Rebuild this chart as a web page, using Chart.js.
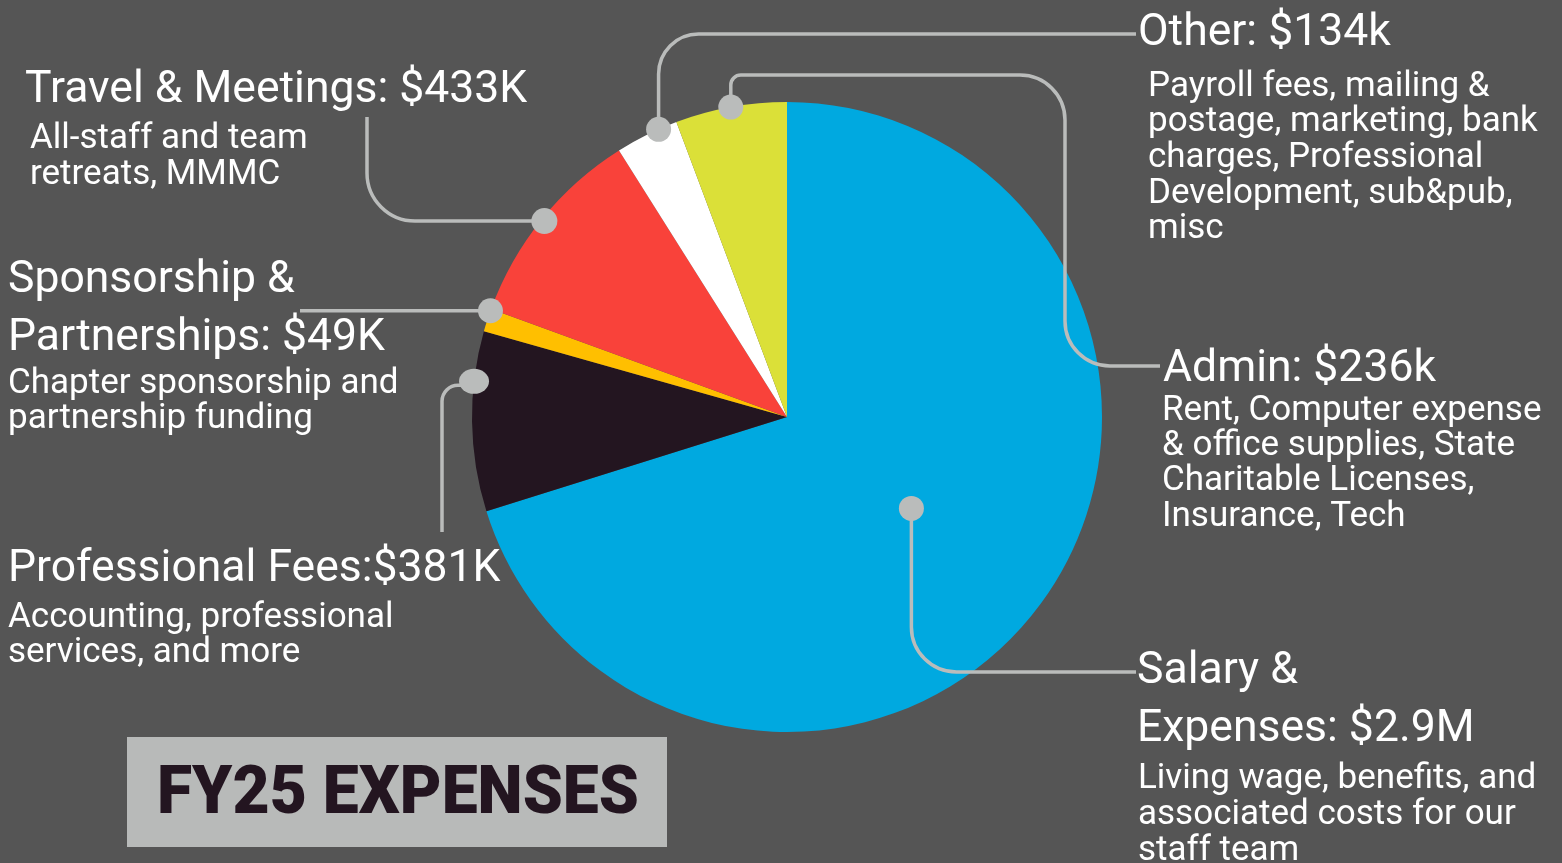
<!DOCTYPE html>
<html>
<head>
<meta charset="utf-8">
<script src="https://cdn.jsdelivr.net/npm/chart.js"></script>
<style>
  html, body { margin: 0; padding: 0; background: #555555; overflow: hidden; }
  #wrap { width: 1562px; height: 863px; }
</style>
</head>
<body>
<div id="wrap"><canvas id="chart" width="1562" height="863"></canvas></div>
<script>
// FY25 expenses, in $K
const categories = ['Salary & Expenses', 'Professional Fees', 'Sponsorship & Partnerships', 'Travel & Meetings', 'Other', 'Admin'];
const amounts = [2900, 381, 49, 433, 134, 236];
const sliceColors = ['#00a9e0', '#231520', '#ffbf00', '#f9423a', '#ffffff', '#dbe038'];

// label text, one entry per slice (same order as categories)
const headings = [
  ['Salary &', 'Expenses: $2.9M'],
  ['Professional Fees:$381K'],
  ['Sponsorship &', 'Partnerships: $49K'],
  ['Travel & Meetings: $433K'],
  ['Other: $134k'],
  ['Admin: $236k']
];
const details = [
  ['Living wage, benefits, and', 'associated costs for our', 'staff team'],
  ['Accounting, professional', 'services, and more'],
  ['Chapter sponsorship and', 'partnership funding'],
  ['All-staff and team', 'retreats, MMMC'],
  ['Payroll fees, mailing &', 'postage, marketing, bank', 'charges, Professional', 'Development, sub&pub,', 'misc'],
  ['Rent, Computer expense', '& office supplies, State', 'Charitable Licenses,', 'Insurance, Tech']
];
const title = 'FY25 EXPENSES';

const LINE = '#babcbb';
const TEXT = '#ffffff';

// where each callout sits (layout only)
const callouts = [
  { f: 0.5, r: 0.49, dot: [12.5, 12.5],
    route: d => [d, { x: d.x, y: 672 }, { x: 1136, y: 672 }], radii: [45],
    head: { x: 1137, y: [683, 741] }, sub: { x: 1138, y: [788, 824, 860] } },
  { f: 0.72, r: 1.0, dot: [15, 12.5],
    route: d => [{ x: d.x, y: d.y + 4 }, { x: 442, y: d.y + 4 }, { x: 442, y: 532 }], radii: [16],
    head: { x: 8, y: [581] }, sub: { x: 8, y: [627, 662] } },
  { f: 0.92, r: 1.0, dot: [12.5, 12.5],
    route: d => [d, { x: 300, y: d.y }], radii: [],
    head: { x: 8, y: [292, 350] }, sub: { x: 8, y: [393, 428] } },
  { f: 0.5, r: 0.99, dot: [13, 13],
    route: d => [d, { x: 367, y: d.y }, { x: 367, y: 117 }], radii: [48],
    head: { x: 25, y: [102] }, sub: { x: 30, y: [148, 184] } },
  { f: 0.7, r: 1.0, dot: [12.5, 12.5],
    route: d => [d, { x: d.x, y: 34 }, { x: 1136, y: 34 }], radii: [40],
    head: { x: 1138, y: [45] }, sub: { x: 1148, y: [96, 131, 167, 203, 238] } },
  { f: 0.5, r: 1.0, dot: [12.5, 12.5],
    route: d => [d, { x: d.x, y: 75 }, { x: 1065, y: 75 }, { x: 1065, y: 366 }, { x: 1160, y: 366 }], radii: [10, 45, 45],
    head: { x: 1163, y: [381] }, sub: { x: 1162, y: [420, 455, 490, 526] } }
];

const background = {
  id: 'background',
  beforeDraw(chart) {
    const ctx = chart.ctx;
    ctx.save();
    ctx.fillStyle = '#555555';
    ctx.fillRect(0, 0, chart.width, chart.height);
    ctx.restore();
  }
};

const calloutPlugin = {
  id: 'callouts',
  afterDatasetsDraw(chart) {
    const ctx = chart.ctx;
    const arcs = chart.getDatasetMeta(0).data;
    ctx.save();
    // leader lines
    const dots = arcs.map((arc, i) => {
      const c = callouts[i];
      const a = arc.startAngle + c.f * (arc.endAngle - arc.startAngle);
      const rr = arc.outerRadius * c.r;
      return { x: arc.x + Math.cos(a) * rr, y: arc.y + Math.sin(a) * rr };
    });
    ctx.strokeStyle = LINE;
    ctx.lineWidth = 3.5;
    ctx.lineCap = 'butt';
    dots.forEach((d, i) => {
      const c = callouts[i];
      const pts = c.route(d);
      ctx.beginPath();
      ctx.moveTo(pts[0].x, pts[0].y);
      for (let k = 1; k < pts.length - 1; k++) {
        ctx.arcTo(pts[k].x, pts[k].y, pts[k + 1].x, pts[k + 1].y, c.radii[k - 1]);
      }
      const last = pts[pts.length - 1];
      ctx.lineTo(last.x, last.y);
      ctx.stroke();
    });
    // dots
    ctx.fillStyle = LINE;
    dots.forEach((d, i) => {
      const [rx, ry] = callouts[i].dot;
      ctx.beginPath();
      ctx.ellipse(d.x, d.y, rx, ry, 0, 0, Math.PI * 2);
      ctx.fill();
    });

    // texts
    ctx.fillStyle = TEXT;
    ctx.textBaseline = 'alphabetic';
    ctx.textAlign = 'left';
    callouts.forEach((c, i) => {
      ctx.font = '44.5px Roboto';
      headings[i].forEach((t, k) => ctx.fillText(t, c.head.x, c.head.y[k]));
      ctx.font = '35px Roboto';
      details[i].forEach((t, k) => ctx.fillText(t, c.sub.x, c.sub.y[k]));
    });

    // title box
    ctx.fillStyle = '#b8bab9';
    ctx.fillRect(127, 737, 540, 110);
    ctx.fillStyle = '#231520';
    ctx.font = '900 67px Roboto';
    ctx.textAlign = 'center';
    ctx.fillText(title, 398, 813, 482);
    ctx.restore();
  }
};

new Chart(document.getElementById('chart'), {
  type: 'pie',
  data: {
    labels: categories,
    datasets: [{
      data: amounts,
      backgroundColor: sliceColors,
      borderWidth: 0,
      hoverOffset: 0
    }]
  },
  options: {
    responsive: false,
    animation: false,
    rotation: 0,
    layout: { padding: { left: 472, top: 102, right: 460, bottom: 131 } },
    plugins: {
      legend: { display: false },
      tooltip: { enabled: false }
    },
    events: []
  },
  plugins: [background, calloutPlugin]
});
</script>
</body>
</html>
